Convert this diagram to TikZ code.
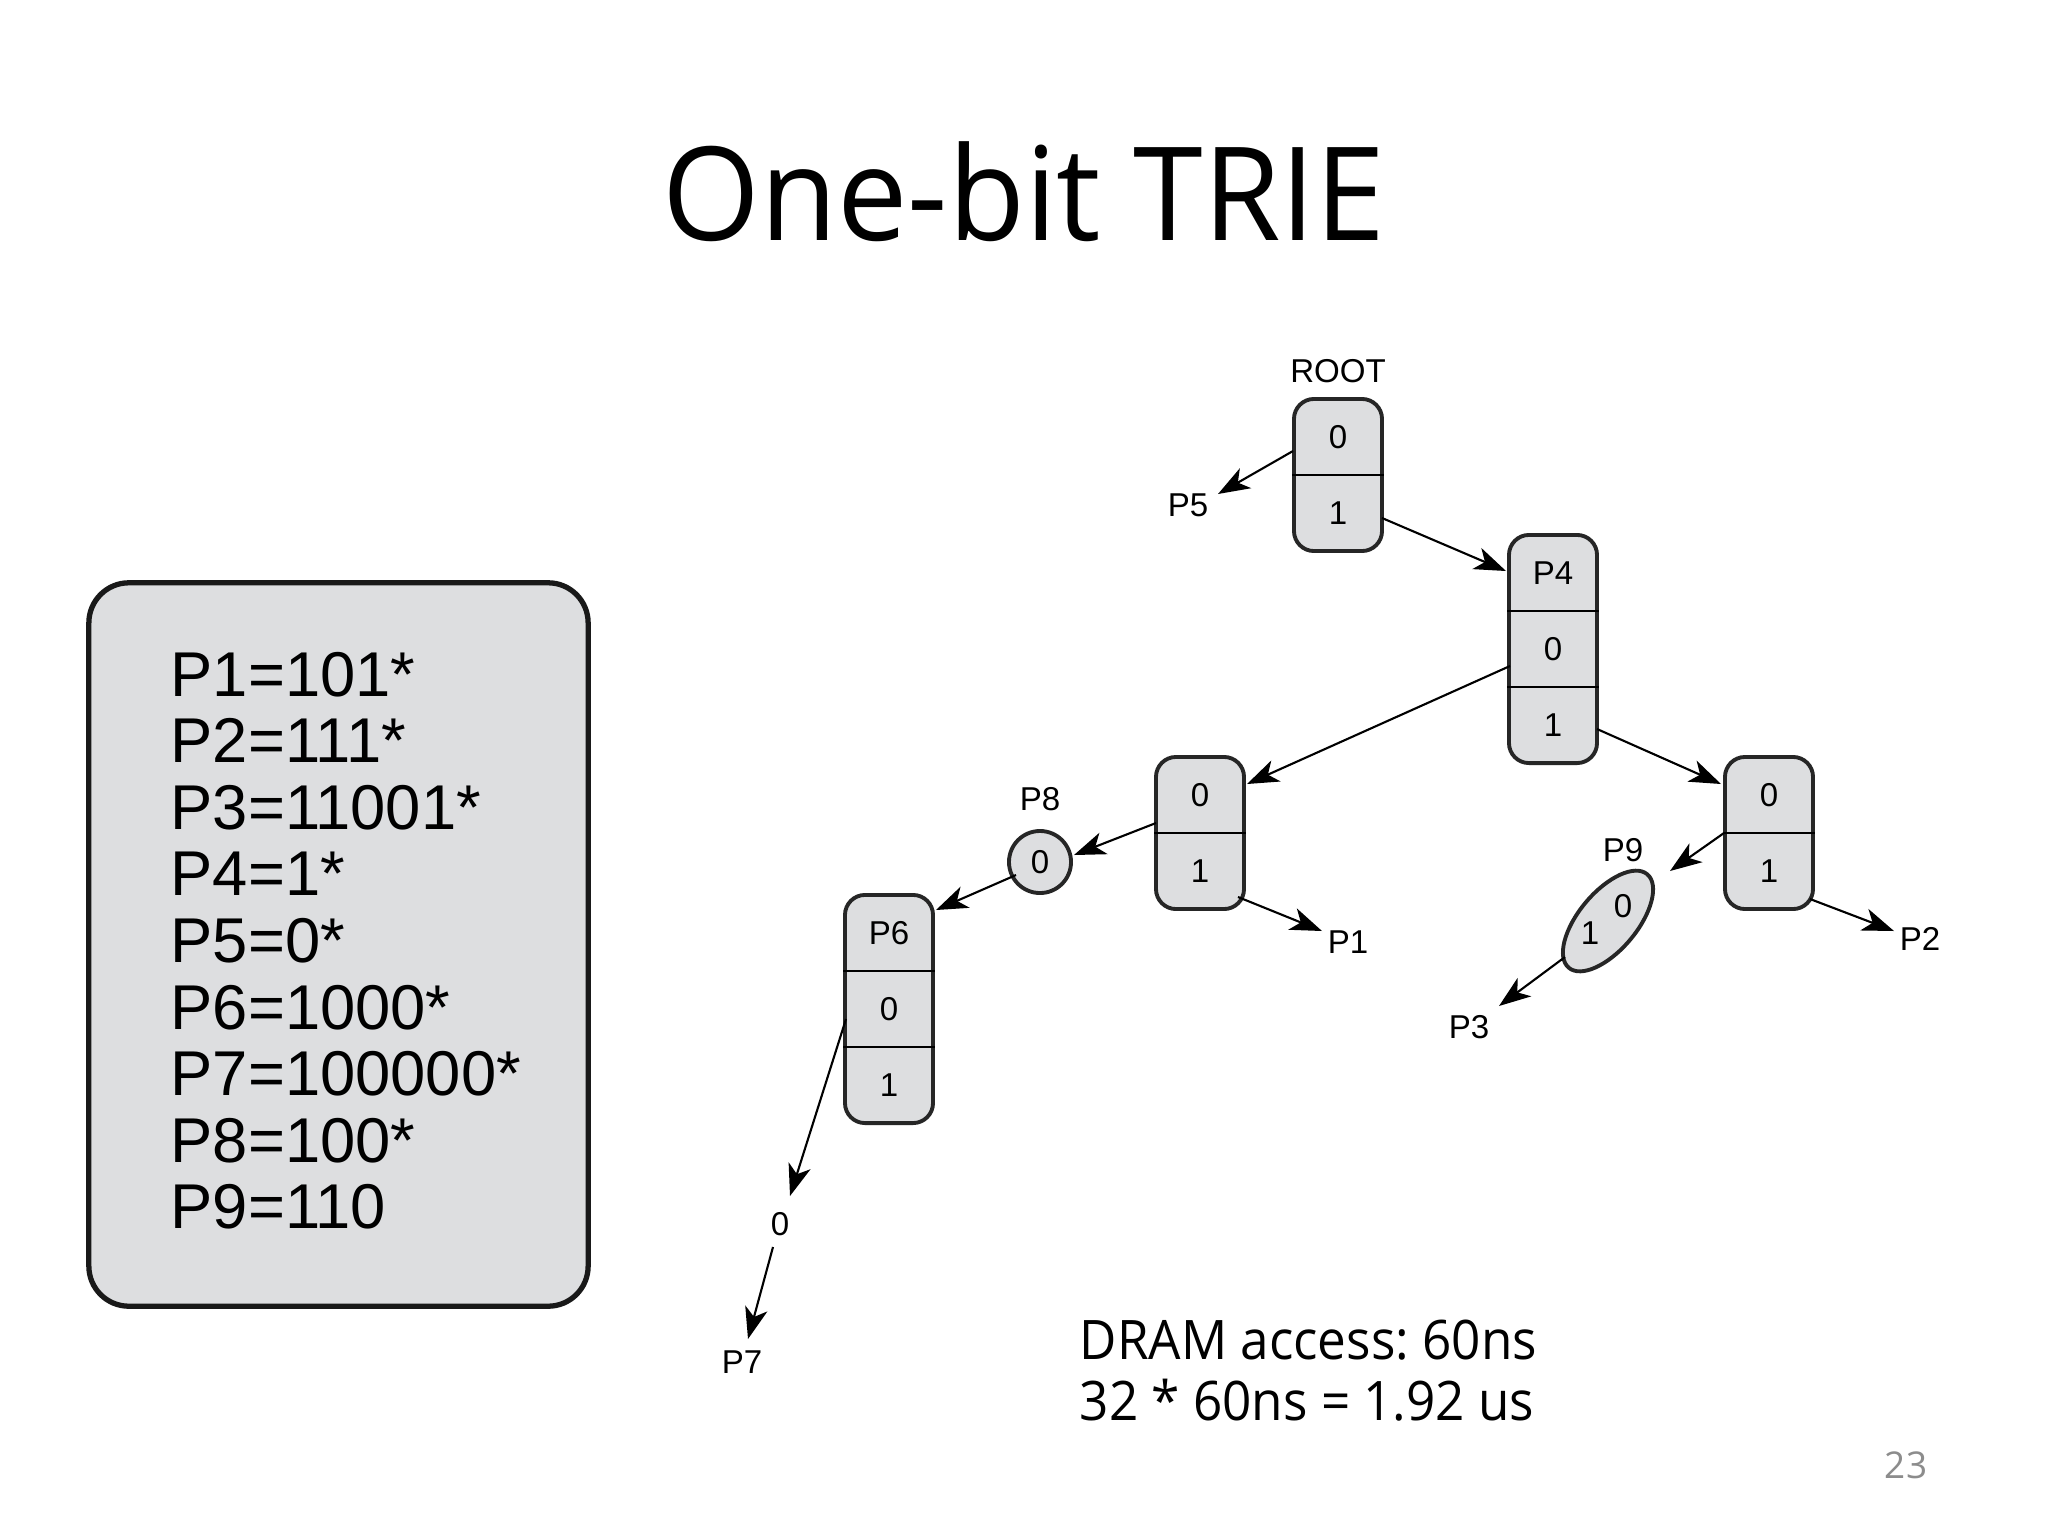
\documentclass[tikz,border=0pt]{standalone}
\usepackage{fontspec}
\setmainfont{Liberation Sans}
\newfontfamily\ofont{Open Sans}
\newfontfamily\ofontt[FakeStretch=0.965]{Open Sans}
\newfontfamily\ofontn[FakeStretch=0.94]{Open Sans}
\usetikzlibrary{arrows.meta,shapes.geometric}
\definecolor{nodegray}{RGB}{221,222,224}
\definecolor{pagegray}{RGB}{140,140,140}
\tikzset{
  trienode/.style={draw=black!85, line width=1.1pt, fill=nodegray, rounded corners=0.2cm, minimum width=0.88cm, inner sep=0pt},
  celltxt/.style={font=\fontsize{9.4}{10}\selectfont, inner sep=0pt},
  lbl/.style={font=\fontsize{9.4}{10}\selectfont, inner sep=1pt},
  arr/.style={line width=0.6pt, -{Stealth[length=9pt,width=6.5pt,inset=2.5pt]}},
  defline/.style={anchor=base west, inner sep=0pt, font=\fontsize{18}{20}\selectfont},
  divline/.style={line width=0.5pt},
}
\begin{document}
\frenchspacing
\begin{tikzpicture}[x=0.01cm,y=-0.01cm]
\useasboundingbox[fill=white] (0,0) rectangle (2048,1536);

% title
\node[font=\ofontt\fontsize{37}{40}\selectfont, inner sep=0pt] (title) at (1024,192) {One-bit TRIE};

% definitions box
\node[draw=black!90, line width=1.5pt, fill=nodegray, rounded corners=0.4cm, minimum width=4.99cm, minimum height=7.23cm] (defs) at (338.5,944.5) {};
\foreach \t [count=\i] in {P1=101*,P2=111*,P3=11001*,P4=1*,P5=0*,P6=1000*,P7=100000*,P8=100*,P9=110}
  \node[defline] (l\i) at (170,{696+66.6*(\i-1)}) {\t};

% ROOT node
\node[trienode, minimum height=1.52cm] (root) at (1338,475) {};
\draw[divline] (root.west) -- (root.east);
\node[celltxt] (root0) at (1338,437) {0};
\node[celltxt] (root1) at (1338,513) {1};
\node[lbl] (rootlbl) at (1338,371) {ROOT};

% P4 node
\node[trienode, minimum height=2.28cm] (p4) at (1553,649) {};
\draw[divline] (p4.west |- 0,611) -- (p4.east |- 0,611);
\draw[divline] (p4.west |- 0,687) -- (p4.east |- 0,687);
\node[celltxt] (p4t) at (1553,573) {P4};
\node[celltxt] (p40) at (1553,649) {0};
\node[celltxt] (p41) at (1553,725) {1};

% node A
\node[trienode, minimum height=1.52cm] (na) at (1200,833) {};
\draw[divline] (na.west) -- (na.east);
\node[celltxt] (na0) at (1200,795) {0};
\node[celltxt] (na1) at (1200,871) {1};

% node B
\node[trienode, minimum height=1.52cm] (nb) at (1769,833) {};
\draw[divline] (nb.west) -- (nb.east);
\node[celltxt] (nb0) at (1769,795) {0};
\node[celltxt] (nb1) at (1769,871) {1};

% P6 node
\node[trienode, minimum height=2.28cm] (p6) at (889,1009) {};
\draw[divline] (p6.west |- 0,971) -- (p6.east |- 0,971);
\draw[divline] (p6.west |- 0,1047) -- (p6.east |- 0,1047);
\node[celltxt] (p6t) at (889,933) {P6};
\node[celltxt] (p60) at (889,1009) {0};
\node[celltxt] (p61) at (889,1085) {1};

% P8 circle
\node[circle, draw=black!85, line width=1.1pt, fill=nodegray, minimum size=0.62cm, inner sep=0pt] (p8) at (1040,862) {};
\node[celltxt] (p80) at (1040,862) {0};
\node[lbl] (p8lbl) at (1040,799) {P8};

% P9 ellipse
\node[ellipse, draw=black!85, line width=1.1pt, fill=nodegray, minimum width=1.22cm, minimum height=0.58cm, inner sep=0pt, rotate=50] (p9) at (1608,921) {};
\node[celltxt] (p90) at (1623,906) {0};
\node[celltxt] (p91) at (1590,933) {1};
\node[lbl] (p9lbl) at (1623,850) {P9};

% leaf labels
\node[lbl] (p5) at (1188,505) {P5};
\node[lbl] (p1) at (1348,942) {P1};
\node[lbl] (p2) at (1920,939) {P2};
\node[lbl] (p3) at (1469,1027) {P3};
\node[lbl] (zero) at (780,1224) {0};
\node[lbl] (p7) at (742,1362) {P7};

% arrow endpoints
\coordinate (s1) at (1293,451); \coordinate (e1) at (1218,494);
\coordinate (s2) at (1382,518); \coordinate (e2) at (1506,571);
\coordinate (s3) at (1510,666); \coordinate (e3) at (1247,784);
\coordinate (s4) at (1597,729); \coordinate (e4) at (1721,784);
\coordinate (s5) at (1156,823); \coordinate (e5) at (1074,855);
\coordinate (s6) at (1016,875); \coordinate (e6) at (936,910);
\coordinate (s7) at (1238,897); \coordinate (e7) at (1322,931);
\coordinate (s8) at (1724,833); \coordinate (e8) at (1670,871);
\coordinate (s9) at (1810,899); \coordinate (e9) at (1894,931);
\coordinate (s10) at (1565,957); \coordinate (e10) at (1499,1006);
\coordinate (s11) at (846,1019); \coordinate (e11) at (790,1196);
\coordinate (s12) at (773,1247); \coordinate (e12) at (748,1339);

\foreach \k in {1,...,12} \draw[arr] (s\k) -- (e\k);

% notes
\node[anchor=base west, inner sep=0pt, font=\ofontn\fontsize{15.5}{17}\selectfont] (dram) at (1079,1359) {DRAM access: 60ns};
\node[anchor=base west, inner sep=0pt, font=\ofontn\fontsize{15.5}{17}\selectfont] (calc) at (1079,1420) {32 * 60ns = 1.92 us};
\node[inner sep=0pt, text=pagegray, font=\ofont\fontsize{10.5}{12}\selectfont] (pg) at (1906,1465) {23};
\end{tikzpicture}
\end{document}
